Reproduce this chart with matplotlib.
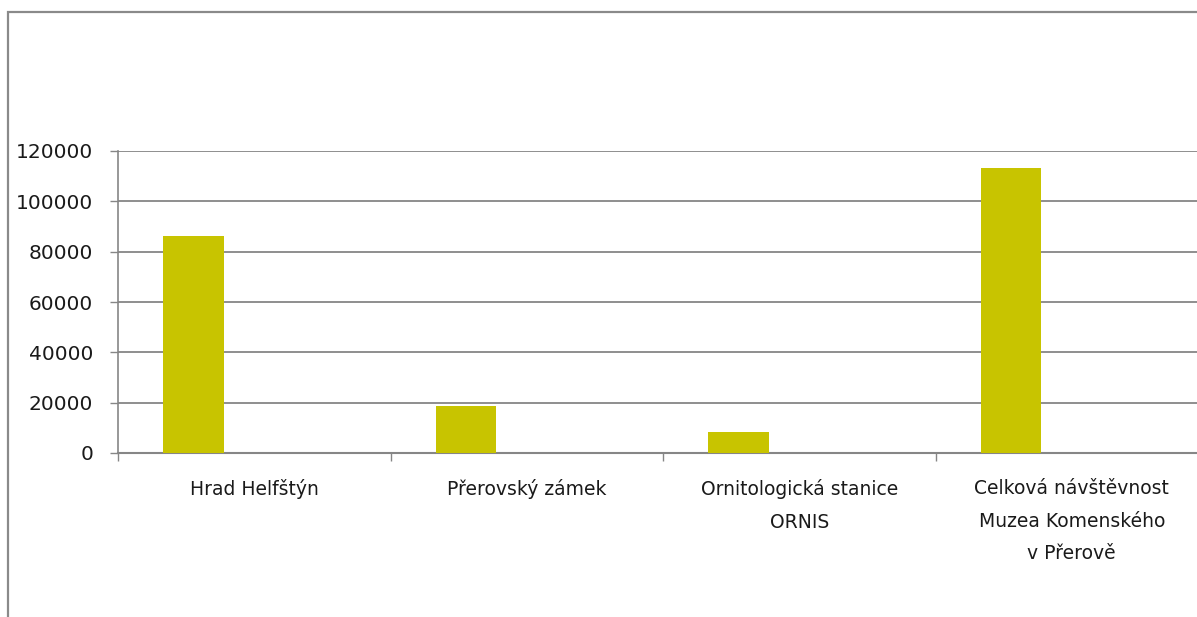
import matplotlib
matplotlib.use("Agg")
import matplotlib.pyplot as plt
from matplotlib.patches import Rectangle
from matplotlib.ticker import FixedLocator, NullFormatter

categories = ["Hrad Helfštýn", "Přerovský zámek", "Ornitologická stanice\nORNIS",
              "Celková návštěvnost\nMuzea Komenského\nv Přerově"]
values = [86400, 18500, 8500, 113200]
yticks = [0, 20000, 40000, 60000, 80000, 100000, 120000]

bar_color = "#C8C400"
grid_color = "#868686"
plt.rcParams['font.family'] = ['DejaVu Sans']

W, H = 1197, 617
fig = plt.figure(figsize=(W / 100, H / 100), dpi=100)

# chart border
fig.patches.append(Rectangle((8 / W, -0.05), 1.1, 1 - 12 / H + 0.05,
                             transform=fig.transFigure, fill=False,
                             edgecolor="#8a8a8a", linewidth=1.6))

left, right = 118, 118 + 4 * 272.5
bottom, top = 453, 151
ax = fig.add_axes([left / W, 1 - bottom / H, (right - left) / W, (bottom - top) / H])

# Excel clustered layout: 3 series slots, gap width 150%
n_series, gap = 3, 1.5
bw = 1 / (n_series + gap)
offset = gap / 2 * bw
xs = [i + offset for i in range(len(categories))]
ax.bar(xs, values, width=bw, align='edge', color=bar_color, zorder=3)

ax.set_xlim(0, 4)
ax.set_ylim(0, 120000)
ax.set_yticks(yticks)
ax.set_yticklabels([str(v) for v in yticks], fontsize=14.5, color="#1a1a1a")
ax.yaxis.grid(True, color=grid_color, linewidth=1.3, zorder=0)
ax.set_axisbelow(True)

ax.xaxis.set_major_locator(FixedLocator([0, 1, 2, 3, 4]))
ax.xaxis.set_major_formatter(NullFormatter())
ax.xaxis.set_minor_locator(FixedLocator([i + 0.5 for i in range(4)]))
ax.set_xticklabels(categories, minor=True, fontsize=13.5, color="#1a1a1a",
                   linespacing=1.9, va="top")
ax.tick_params(axis='x', which='minor', length=0, pad=19)
ax.tick_params(axis='x', which='major', length=6, color=grid_color, width=1)
ax.tick_params(axis='y', length=5.8, color=grid_color, width=1, pad=12)

for s in ["top", "right"]:
    ax.spines[s].set_visible(False)
ax.spines["left"].set_color(grid_color)
ax.spines["bottom"].set_color(grid_color)
ax.spines["left"].set_linewidth(1.2)
ax.spines["bottom"].set_linewidth(1.5)

fig.savefig("out.png", dpi=100)
